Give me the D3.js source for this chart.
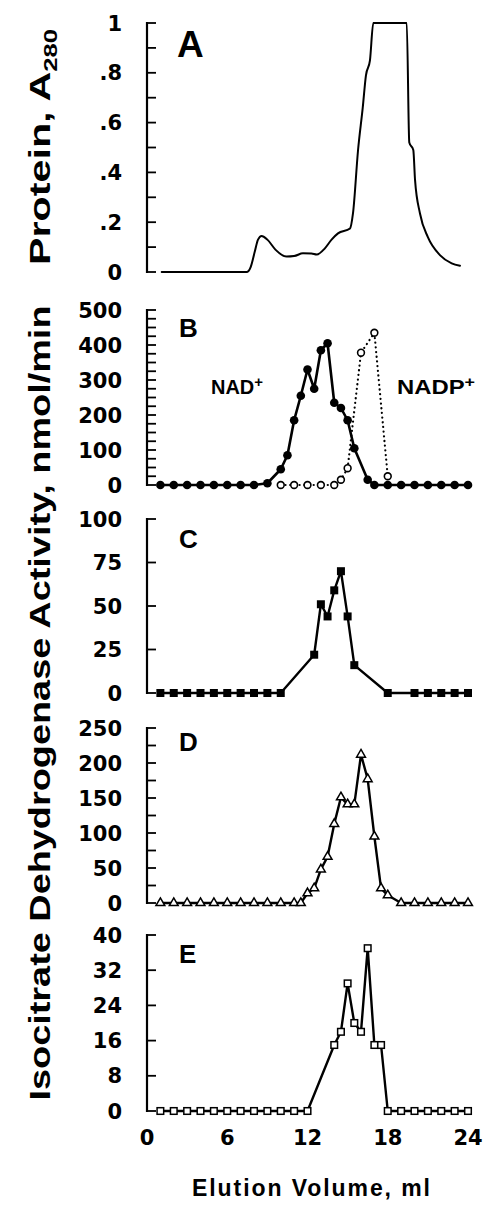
<!DOCTYPE html>
<html><head><meta charset="utf-8">
<script src="https://cdn.jsdelivr.net/npm/d3@7"></script>
<style>
html,body{margin:0;padding:0;background:#fff;}
svg{display:block;}
</style></head>
<body>
<svg id="c" width="486" height="1216"></svg>
<script>
// ---------- DATA ----------
const xTicks = [0, 6, 12, 18, 24];

// Panel A: protein A280 trace
const proteinVol  = [1.1, 7.45, 7.75, 8.05, 8.3, 8.57, 9.0, 9.6, 10.44, 11.0, 11.66, 12.3, 12.69, 13.3, 13.8, 14.28, 15.18, 15.4, 15.78, 16.13, 16.37, 16.67, 16.92, 19.42, 19.61, 19.91, 20.04, 20.41, 21.0, 21.9, 22.78, 23.4];
const proteinA280 = [0, 0, 0.02, 0.08, 0.13, 0.145, 0.13, 0.09, 0.062, 0.064, 0.075, 0.074, 0.07, 0.095, 0.13, 0.155, 0.175, 0.235, 0.49, 0.66, 0.79, 0.85, 1.0, 1.0, 0.52, 0.49, 0.37, 0.235, 0.14, 0.068, 0.035, 0.025];
const aTicks = [0, 0.2, 0.4, 0.6, 0.8, 1];
const aTickText = ["0", ".2", ".4", ".6", ".8", "1"];

// Panel B: NAD+ (filled circles) and NADP+ (open circles)
const nadVol = [1,2,3,4,5,6,7,8,9,10,10.5,11,11.5,12,12.5,13,13.5,14,14.5,15,15.5,16.5,17,18,19,20,21,22,23,24];
const nadAct = [0,0,0,0,0,0,0,0,5,45,85,185,255,330,275,385,405,235,220,185,105,15,0,0,0,0,0,0,0,0];
const nadpVol = [10,11,12,13,14,14.5,15,16,17,18];
const nadpAct = [0,0,0,0,0,15,48,378,435,25];
const bTicks = [0, 100, 200, 300, 400, 500];

// Panel C: filled squares
const cVol = [1,2,3,4,5,6,7,8,9,10,12.5,13,13.5,14,14.5,15,15.5,18,20,21,22,23,24];
const cAct = [0,0,0,0,0,0,0,0,0,0,22,51,44,59,70,44,16,0,0,0,0,0,0];
const cTicks = [0, 25, 50, 75, 100];

// Panel D: open triangles
const dVol = [1,2,3,4,5,6,7,8,9,10,11,11.5,12,12.5,13,13.5,14,14.5,15,15.5,16,16.5,17,17.5,18,19,20,21,22,23,24];
const dAct = [0,0,0,0,0,0,0,0,0,0,0,0,14,21,48,66,113,151,141,141,212,177,95,21,11,0,0,0,0,0,0];
const dTicks = [0, 50, 100, 150, 200, 250];

// Panel E: open squares
const eVol = [1,2,3,4,5,6,7,8,9,10,11,12,14,14.5,15,15.5,16,16.5,17,17.5,18,19,20,21,22,23,24];
const eAct = [0,0,0,0,0,0,0,0,0,0,0,0,15,18,29,20,18,37,15,15,0,0,0,0,0,0,0];
const eTicks = [0, 8, 16, 24, 32, 40];

// ---------- DRAWING ----------
const svg = d3.select("#c");
const x = d3.scaleLinear().domain([0, 24]).range([147, 468]);
const AX = 147;           // y-axis line position
const LABX = 122;         // right edge of tick labels
const tickFont = "'DejaVu Sans', sans-serif";
const titleFont = "'Liberation Sans Narrow','Arial Narrow','Liberation Sans',Arial,sans-serif";

function yAxis(y, minorStep, labels, labelText) {
  const [d0, d1] = y.domain();
  const g = svg.append("g");
  g.append("line").attr("x1", AX).attr("x2", AX)
    .attr("y1", y(d0) + 1).attr("y2", y(d1) - 1)
    .attr("stroke", "#000").attr("stroke-width", 2.2);
  const minor = d3.range(d0, d1 + minorStep / 2, minorStep);
  g.selectAll(null).data(minor).join("line")
    .attr("x1", AX).attr("x2", AX + 9)
    .attr("y1", d => y(d)).attr("y2", d => y(d))
    .attr("stroke", "#000").attr("stroke-width", 1.8);
  g.selectAll(null).data(labels).join("text")
    .attr("x", LABX).attr("y", d => y(d))
    .attr("dy", "0.36em")
    .attr("text-anchor", "end")
    .attr("font-family", tickFont).attr("font-weight", "bold")
    .attr("font-size", 21)
    .text((d, i) => labelText ? labelText[i] : d);
}

function panelLetter(t, px, py, size) {
  svg.append("text").attr("x", px).attr("y", py)
    .attr("font-family", "'Liberation Sans', Arial, sans-serif")
    .attr("font-weight", "bold").attr("font-size", size).text(t);
}

function pathLine(y, vols, vals, opts) {
  const line = d3.line().x(d => x(d[0])).y(d => y(d[1]));
  if (opts.curve) line.curve(opts.curve);
  svg.append("path").datum(d3.zip(vols, vals))
    .attr("d", line).attr("fill", "none")
    .attr("stroke", "#000").attr("stroke-width", opts.width || 2.4)
    .attr("stroke-linejoin", "round").attr("stroke-linecap", "round")
    .attr("stroke-dasharray", opts.dash || null);
}

// ----- Panel A -----
const yA = d3.scaleLinear().domain([0, 1]).range([272, 23]);
yAxis(yA, 0.1, aTicks, aTickText);
pathLine(yA, proteinVol, proteinA280, { curve: d3.curveMonotoneX, width: 2 });
panelLetter("A", 177, 57, 37);

// ----- Panel B -----
const yB = d3.scaleLinear().domain([0, 500]).range([485, 310]);
yAxis(yB, 25, bTicks);
pathLine(yB, nadpVol, nadpAct, { width: 2.2, dash: "0.1 4.6" });
pathLine(yB, nadVol, nadAct, { width: 2.6 });
svg.append("g").selectAll(null).data(d3.zip(nadpVol, nadpAct)).join("circle")
  .attr("cx", d => x(d[0])).attr("cy", d => yB(d[1])).attr("r", 3.4)
  .attr("fill", "#fff").attr("stroke", "#000").attr("stroke-width", 1.6);
svg.append("g").selectAll(null).data(d3.zip(nadVol, nadAct)).join("circle")
  .attr("cx", d => x(d[0])).attr("cy", d => yB(d[1])).attr("r", 4.3)
  .attr("fill", "#000");
panelLetter("B", 179, 337, 26);
function ionLabel(base, px, py, len) {
  const t = svg.append("text").attr("x", px).attr("y", py)
    .attr("font-family", "'Liberation Sans', Arial, sans-serif")
    .attr("font-size", 20).attr("font-weight", "bold").attr("fill", "#000")
    .attr("textLength", len).attr("lengthAdjust", "spacingAndGlyphs");
  t.append("tspan").text(base);
  t.append("tspan").attr("dy", -7).attr("font-size", 15).text("+");
}
ionLabel("NAD", 211, 394, 52);
ionLabel("NADP", 397, 394, 78);

// ----- Panel C -----
const yC = d3.scaleLinear().domain([0, 100]).range([693, 519]);
yAxis(yC, 25, cTicks);
pathLine(yC, cVol, cAct, { width: 2.4 });
svg.append("g").selectAll(null).data(d3.zip(cVol, cAct)).join("rect")
  .attr("x", d => x(d[0]) - 4).attr("y", d => yC(d[1]) - 4)
  .attr("width", 8).attr("height", 8).attr("fill", "#000");
panelLetter("C", 179, 548, 26);

// ----- Panel D -----
const yD = d3.scaleLinear().domain([0, 250]).range([903, 728]);
yAxis(yD, 25, dTicks);
pathLine(yD, dVol, dAct, { width: 2.4 });
const tri = d3.symbol().type(d3.symbolTriangle).size(34);
svg.append("g").selectAll(null).data(d3.zip(dVol, dAct)).join("path")
  .attr("d", tri)
  .attr("transform", d => `translate(${x(d[0])},${yD(d[1])})`)
  .attr("fill", "#fff").attr("stroke", "#000").attr("stroke-width", 1.5);
panelLetter("D", 179, 751, 26);

// ----- Panel E -----
const yE = d3.scaleLinear().domain([0, 40]).range([1111, 935]);
yAxis(yE, 8, eTicks);
pathLine(yE, eVol, eAct, { width: 2.4 });
svg.append("g").selectAll(null).data(d3.zip(eVol, eAct)).join("rect")
  .attr("x", d => x(d[0]) - 3.3).attr("y", d => yE(d[1]) - 3.3)
  .attr("width", 6.6).attr("height", 6.6)
  .attr("fill", "#fff").attr("stroke", "#000").attr("stroke-width", 1.5);
panelLetter("E", 179, 963, 26);

// ----- X axis tick labels -----
svg.append("g").selectAll(null).data(xTicks).join("text")
  .attr("x", d => x(d)).attr("y", 1145)
  .attr("text-anchor", "middle")
  .attr("font-family", tickFont).attr("font-weight", "bold")
  .attr("font-size", 21).text(d => d);

// ----- Axis titles -----
svg.append("text")
  .attr("transform", "translate(311,1196)")
  .attr("text-anchor", "middle")
  .attr("font-family", "'Liberation Sans', Arial, sans-serif")
  .attr("font-weight", "bold").attr("font-size", 23)
  .attr("textLength", 238).attr("lengthAdjust", "spacing")
  .text("Elution Volume, ml");

svg.append("text")
  .attr("transform", "translate(50,703) rotate(-90)")
  .attr("text-anchor", "middle")
  .attr("font-family", titleFont)
  .attr("font-weight", "bold").attr("font-size", 29)
  .attr("textLength", 795).attr("lengthAdjust", "spacingAndGlyphs")
  .text("Isocitrate Dehydrogenase Activity, nmol/min");

const pTitle = svg.append("text")
  .attr("transform", "translate(50,147) rotate(-90)")
  .attr("text-anchor", "middle")
  .attr("font-family", titleFont)
  .attr("font-weight", "bold").attr("font-size", 29)
  .attr("textLength", 236).attr("lengthAdjust", "spacingAndGlyphs");
pTitle.append("tspan").text("Protein, A");
pTitle.append("tspan").attr("dy", 7).attr("font-size", 18).text("280");
</script>
</body></html>
